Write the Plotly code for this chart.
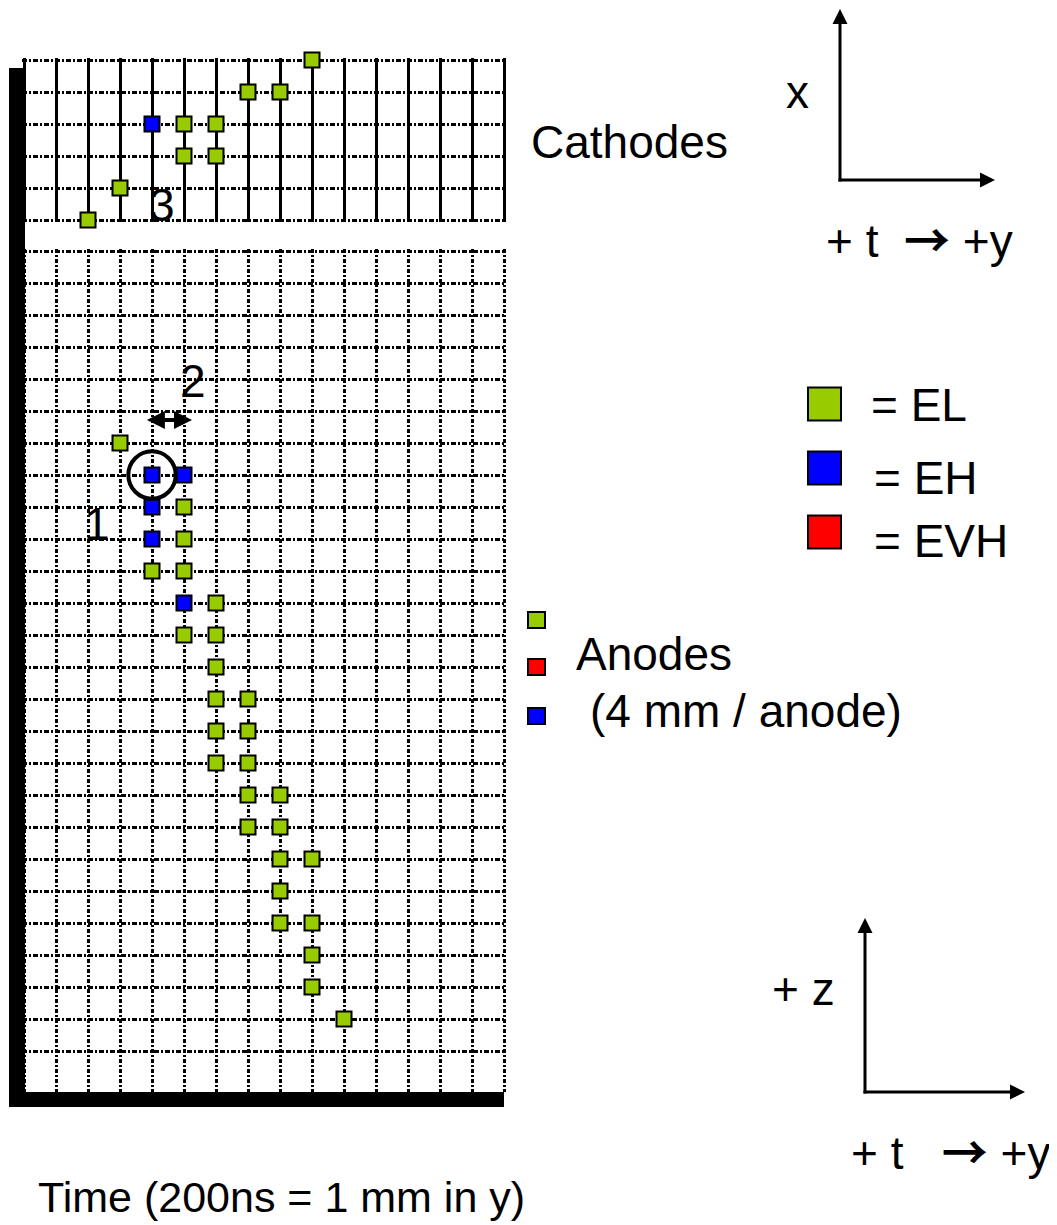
import plotly.graph_objects as go

# page body has an 8px margin: the figure is sized so that it ends at the window edge
OFF = 8
W, H = 1057 - OFF, 1225 - OFF

# ---------------- data: (grid column, grid row) of each hit ----------------
cathode_el_cols = [9, 7, 8, 5, 6, 5, 6, 3, 2]
cathode_el_rows = [0, 1, 1, 2, 2, 3, 3, 4, 5]
cathode_eh_cols = [4]
cathode_eh_rows = [2]

anode_el_cols = [3, 5, 5, 4, 5, 6, 5, 6, 6, 6, 7, 6, 7, 6, 7, 7, 8, 7, 8, 8, 9, 8, 8, 9, 9, 9, 10]
anode_el_rows = [6, 8, 9, 10, 10, 11, 12, 12, 13, 14, 14, 15, 15, 16, 16, 17, 17, 18, 18, 19, 19, 20, 21, 21, 22, 23, 24]
anode_eh_cols = [4, 5, 4, 4, 5]
anode_eh_rows = [7, 7, 8, 9, 11]

grid_cols = list(range(16))          # time bins
cathode_grid_rows = list(range(6))   # cathode strips
anode_grid_rows = list(range(26))    # anode wires

key_names = ["= EL", "= EH", "= EVH"]
key_colors = ["#99CC00", "#0000FF", "#FF0000"]
EL_COLOR, EH_COLOR = key_colors[0], key_colors[1]

# ---------------- layout geometry (window pixels) ----------------
FONT = "Liberation Sans, Arial, sans-serif"
X0, CELL = 24, 32
C_TOP, A_TOP, A_BOTTOM = 60, 251, 1092
PAD = 0.06
ARROW = '<span style="font-family:Noto Sans CJK JP;font-weight:bold">\u2192</span>'


def px(x):
    return (x - OFF) / W


def py(y):
    return 1 - (y - OFF) / H


ncol = len(grid_cols) - 1
ncr = len(cathode_grid_rows) - 1
a_bottom_val = (A_BOTTOM - A_TOP) / CELL

fig = go.Figure()
marker_line = dict(color="black", width=2)


def add_hits(cols, rows, color, xa, ya):
    fig.add_trace(go.Scatter(
        x=cols, y=rows, mode="markers", xaxis=xa, yaxis=ya, cliponaxis=False,
        marker=dict(symbol="square", size=15, color=color, line=marker_line),
        hoverinfo="skip", showlegend=False))


add_hits(cathode_el_cols, cathode_el_rows, EL_COLOR, "x", "y")
add_hits(cathode_eh_cols, cathode_eh_rows, EH_COLOR, "x", "y")
add_hits(anode_el_cols, anode_el_rows, EL_COLOR, "x2", "y2")
add_hits(anode_eh_cols, anode_eh_rows, EH_COLOR, "x2", "y2")

axis_common = dict(showticklabels=False, ticks="", zeroline=False, showline=False,
                   showgrid=True, gridcolor="black", gridwidth=2.5, fixedrange=True,
                   tickmode="array")
HDASH = "5px,2px,2px,2px"
VDASH = "4px,2px,2px,2px"

xdom = [px(X0 - PAD * CELL), px(X0 + ncol * CELL + PAD * CELL)]
fig.update_layout(
    width=W, height=H, margin=dict(l=0, r=0, t=0, b=0),
    paper_bgcolor="white", plot_bgcolor="rgba(0,0,0,0)", showlegend=False,
    xaxis=dict(axis_common, domain=xdom, range=[-PAD, ncol + PAD], anchor="y",
               tickvals=grid_cols, griddash="solid"),
    yaxis=dict(axis_common, domain=[py(C_TOP + ncr * CELL + PAD * CELL), py(C_TOP - PAD * CELL)],
               range=[ncr + PAD, -PAD], anchor="x", tickvals=cathode_grid_rows, griddash=HDASH),
    xaxis2=dict(axis_common, domain=xdom, range=[-PAD, ncol + PAD], anchor="y2",
                tickvals=grid_cols, griddash=VDASH),
    yaxis2=dict(axis_common, domain=[py(A_BOTTOM), py(A_TOP - PAD * CELL)],
                range=[a_bottom_val, -PAD], anchor="x2", tickvals=anode_grid_rows, griddash=HDASH),
)

shapes = []
# thick black frame (left and bottom)
shapes.append(dict(type="rect", xref="paper", yref="paper", x0=px(9), x1=px(25), y0=py(1107), y1=py(68),
                   fillcolor="black", line=dict(width=0), layer="above"))
shapes.append(dict(type="rect", xref="paper", yref="paper", x0=px(9), x1=px(504), y0=py(1107), y1=py(1092),
                   fillcolor="black", line=dict(width=0), layer="above"))
# circle around the highlighted anode hit
R = 0.74
shapes.append(dict(type="circle", xref="x2", yref="y2", x0=anode_eh_cols[0] - R, x1=anode_eh_cols[0] + R,
                   y0=anode_eh_rows[0] - R, y1=anode_eh_rows[0] + R, line=dict(color="black", width=4),
                   layer="above"))
# energy key swatches
key_y = [404, 468, 532]
for yc, col in zip(key_y, key_colors):
    shapes.append(dict(type="rect", xref="paper", yref="paper", x0=px(808), x1=px(841),
                       y0=py(yc + 16.5), y1=py(yc - 16.5), fillcolor=col, line=dict(color="black", width=2)))
# small anode swatches
small_y = [620, 667, 716]
small_colors = [key_colors[0], key_colors[2], key_colors[1]]
for yc, col in zip(small_y, small_colors):
    shapes.append(dict(type="rect", xref="paper", yref="paper", x0=px(528), x1=px(545),
                       y0=py(yc + 8), y1=py(yc - 8), fillcolor=col, line=dict(color="black", width=2)))
fig.update_layout(shapes=shapes)

ann = []


def label(text, x, y, xanchor="left", size=46, family=FONT):
    ann.append(dict(text=text, x=px(x), y=py(y), xref="paper", yref="paper", xanchor=xanchor,
                    yanchor="middle", showarrow=False, borderpad=0, borderwidth=0,
                    font=dict(size=size, family=family, color="black")))


def data_label(text, x, y, xref, yref):
    ann.append(dict(text=text, x=x, y=y, xref=xref, yref=yref, xanchor="center", yanchor="middle",
                    showarrow=False, borderpad=0, borderwidth=0,
                    font=dict(size=46, family=FONT, color="black")))


def arrow(xh, yh, dx, dy):
    ann.append(dict(text="", x=px(xh), y=py(yh), xref="paper", yref="paper", ax=dx, ay=dy,
                    showarrow=True, arrowhead=2, arrowsize=1, arrowwidth=3, arrowcolor="black",
                    standoff=0, borderpad=0, borderwidth=0))


# numbered labels inside the grids
data_label("1", 2.28, 8.53, "x2", "y2")
data_label("2", 5.28, 4.06, "x2", "y2")
data_label("3", 4.31, 4.53, "x", "y")
# double arrow under "2"
ann.append(dict(text="", x=5.25, y=5.28, ax=3.84, ay=5.28, xref="x2", yref="y2", axref="x2", ayref="y2",
                showarrow=True, arrowside="end+start", arrowhead=2, startarrowhead=2, arrowsize=0.9,
                startarrowsize=0.9, arrowwidth=4, arrowcolor="black", standoff=0, startstandoff=0,
                borderpad=0, borderwidth=0))

# coordinate axes (top: cathodes, bottom: anodes)
arrow(840, 5, 0, 176.5)
arrow(995, 180, -156.5, 0)
arrow(865, 918, 0, 175.5)
arrow(1025, 1092, -161.5, 0)

label("x", 797, 91.5, xanchor="center")
label("Cathodes", 531, 141.5)
label("+ t\u00a0\u00a0" + ARROW + "\u00a0+y", 826, 236.5)
label("+ z", 772, 988.5)
label("+ t\u00a0\u00a0\u00a0" + ARROW + "\u00a0+y", 851, 1148.5)

label(key_names[0], 871, 405)
label(key_names[1], 874, 478)
label(key_names[2], 874, 541.5)

label("Anodes", 576, 654)
label("(4 mm / anode)", 590, 711)

label("Time (200ns = 1 mm in y)", 38, 1197, size=43)

fig.update_layout(annotations=ann)

fig.write_html("out.html")
